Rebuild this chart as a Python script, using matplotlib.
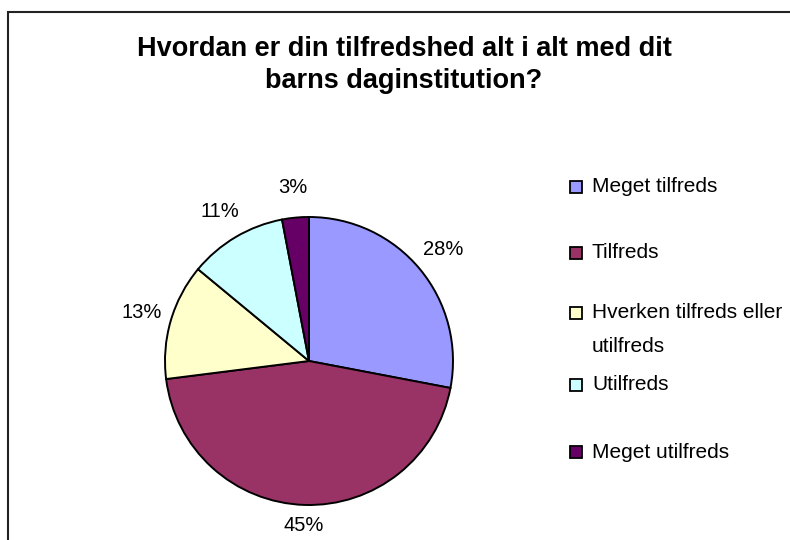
import matplotlib
matplotlib.use("Agg")
import matplotlib.pyplot as plt
from matplotlib.patches import Rectangle

# data
categories = ["Meget tilfreds", "Tilfreds", "Hverken tilfreds eller\nutilfreds",
              "Utilfreds", "Meget utilfreds"]
shares = [28, 45, 13, 11, 3]
colors = ["#9999FF", "#993366", "#FFFFCC", "#CCFFFF", "#660066"]
title = "Hvordan er din tilfredshed alt i alt med dit\nbarns daginstitution?"

plt.rcParams['font.family'] = ['Liberation Sans', 'DejaVu Sans']

W, H = 790, 540
fig = plt.figure(figsize=(W / 100, H / 100), dpi=100)

# chart area border (runs off the right and bottom)
fig.add_artist(Rectangle((8 / W, -0.1), 1.2, 1.1 - 12 / H, transform=fig.transFigure,
                         fill=False, edgecolor="#222222", linewidth=1.5))

# pie, center (309, 361) px, radius 144 px
cx, cy, r = 309, 361, 144
ax = fig.add_axes([(cx - r) / W, (H - cy - r) / H, 2 * r / W, 2 * r / H])
wedges, texts, pcts = ax.pie(shares, colors=colors, startangle=90, counterclock=False,
                             autopct=lambda p: f"{p:.0f}%", pctdistance=1.21,
                             wedgeprops=dict(edgecolor="black", linewidth=1.4),
                             textprops=dict(fontsize=14.5, color="black"))
# bottom label sits a bit closer to the pie
x, y = pcts[1].get_position()
pcts[1].set_position((x * 1.14 / 1.21, y * 1.14 / 1.21))
ax.set_xlim(-1, 1)
ax.set_ylim(-1, 1)
ax.set_aspect("equal")
ax.axis("off")

fig.text(404 / W, 1 - 65 / H, title, ha="center", va="center", fontsize=19.5,
         fontweight="bold", linespacing=1.35)

# legend, laid out like the spreadsheet one
legend_y = [187, 253, 313, 385, 452]
for lab, col, y in zip(categories, colors, legend_y):
    fig.add_artist(Rectangle(((576 - 6) / W, 1 - (y + 6) / H), 12 / W, 12 / H,
                             transform=fig.transFigure, facecolor=col,
                             edgecolor="black", linewidth=1.3))
    for i, line in enumerate(lab.split("\n")):
        fig.text(592 / W, 1 - (y + i * 34) / H, line, ha="left", va="center",
                 fontsize=15)

fig.savefig("out.png", dpi=100, facecolor="white")
